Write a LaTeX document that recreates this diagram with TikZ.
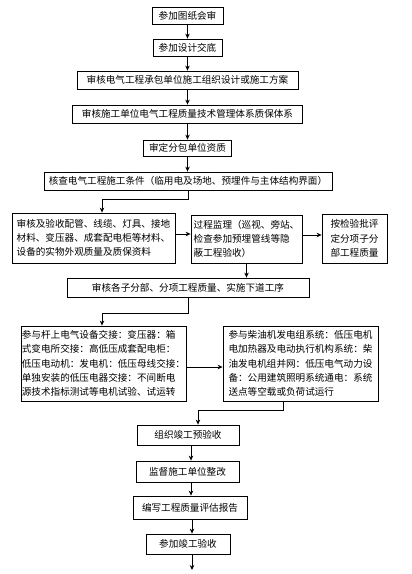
\documentclass[tikz,border=0pt]{standalone}
\usepackage{fontspec}
\newfontfamily\cjk{Noto Sans CJK SC}
\usetikzlibrary{arrows.meta}

\begin{document}
\begin{tikzpicture}[x=1pt,y=-1pt,
  box/.style={draw, line width=0.8pt, inner sep=0pt, font=\cjk\fontsize{9.6}{14.3}\selectfont},
  arr/.style={-{Stealth[length=5pt,width=4.5pt]}, line width=0.8pt}]

\useasboundingbox (0,0) rectangle (412,574);

\node[box, minimum width=71pt, minimum height=17pt] (drawing) at (187.5,15.5) {参加图纸会审};
\node[box, minimum width=69pt, minimum height=17pt] (disclosure) at (187.5,47.5) {参加设计交底};
\node[box, minimum width=221pt, minimum height=18pt] (plan) at (187.5,80) {审核电气工程承包单位施工组织设计或施工方案};
\node[box, minimum width=230pt, minimum height=18pt] (system) at (187.5,114) {审核施工单位电气工程质量技术管理体系质保体系};
\node[box, minimum width=88pt, minimum height=16pt] (subqual) at (187.5,148) {审定分包单位资质};
\node[box, minimum width=288pt, minimum height=18pt] (cond) at (188,181) {核查电气工程施工条件（临用电及场地、预埋件与主体结构界面）};

\node[box, minimum width=163pt, minimum height=50pt, align=left] (material) at (93.5,238) {审核及验收配管、线缆、灯具、接地\\材料、变压器、成套配电柜等材料、\\设备的实物外观质量及质保资料};
\node[box, minimum width=111pt, minimum height=48pt, align=left] (monitor) at (246.5,239) {过程监理（巡视、旁站、\\检查参加预埋管线等隐\\蔽工程验收）};
\node[box, minimum width=65pt, minimum height=49pt, align=left] (evaluate) at (354.5,238.5) {按检验批评\\定分项子分\\部工程质量};

\node[box, minimum width=242pt, minimum height=19pt] (review) at (188,287.5) {审核各子分部、分项工程质量、实施下道工序};

\node[box, minimum width=165pt, minimum height=75pt, align=left] (elec) at (103.5,363.5) {参与杆上电气设备交接：变压器：箱\\式变电所交接：高低压成套配电柜：\\低压电动机：发电机：低压母线交接：\\单独安装的低压电器交接：不间断电\\源技术指标测试等电机试验、试运转};
\node[box, minimum width=155pt, minimum height=75pt, align=left] (power) at (300.5,363.5) {参与柴油机发电组系统：低压电机\\电加热器及电动执行机构系统：柴\\油发电机组并网：低压电气动力设\\备：公用建筑照明系统通电：系统\\送点等空载或负荷试运行};

\node[box, minimum width=102pt, minimum height=20pt] (pre) at (188,435) {组织竣工预验收};
\node[box, minimum width=103pt, minimum height=21pt] (rect) at (187.5,471.5) {监督施工单位整改};
\node[box, minimum width=114pt, minimum height=23pt] (report) at (190,507.5) {编写工程质量评估报告};
\node[box, minimum width=84pt, minimum height=20pt] (final) at (188,544) {参加竣工验收};
\coordinate (out) at (192,570);

\draw[arr] (drawing) -- (disclosure);
\draw[arr] (disclosure) -- (plan);
\draw[arr] (plan) -- (system);
\draw[arr] (system) -- (subqual);
\draw[arr] (subqual.south) -- (subqual.south |- cond.north);
\draw[arr] (cond.south) -- ++(0,9) -| ([xshift=8.5pt]material.north);
\draw[arr] ([yshift=4pt]material.east) -- ([yshift=4pt]material.east -| monitor.west);
\draw[arr] ([yshift=4pt]monitor.east) -- ([yshift=4pt]monitor.east -| evaluate.west);
\draw[arr] (monitor.south) -- (monitor.south |- review.north);
\draw[arr] (review.south) -- ++(0,16) -| ([xshift=-1.5pt]elec.north);
\draw[arr] ([yshift=-3.5pt]elec.east) -- ([yshift=-3.5pt]elec.east -| power.west);
\draw[arr] ([xshift=-17.5pt]power.south) -- ++(0,9) -| ([xshift=10pt]pre.north);
\draw[arr] ([xshift=3pt]pre.south) -- ([xshift=3pt]pre.south |- rect.north);
\draw[arr] ([xshift=3.5pt]rect.south) -- ([xshift=3.5pt]rect.south |- report.north);
\draw[arr] ([xshift=2pt]report.south) -- ([xshift=2pt]report.south |- final.north);
\draw[arr] (final.south -| out) -- (out);

\end{tikzpicture}
\end{document}
